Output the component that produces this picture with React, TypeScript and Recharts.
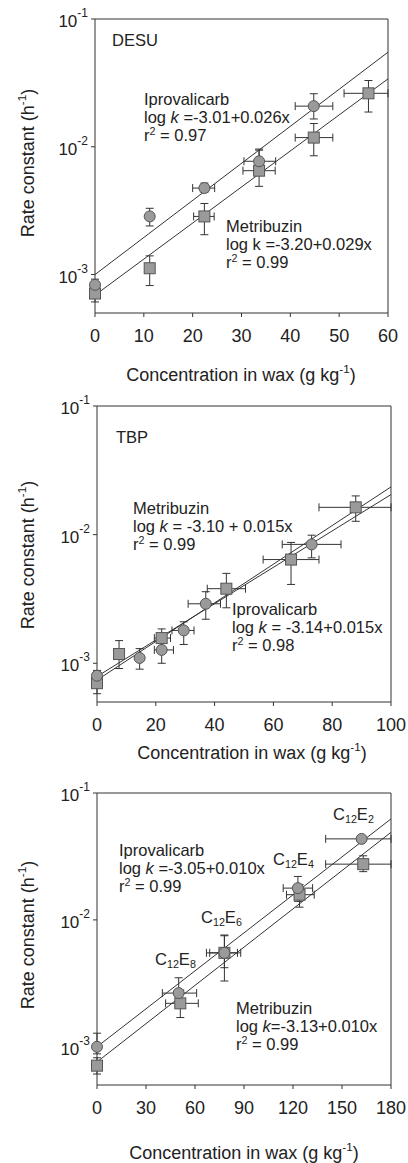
import React from "react";
import { ComposedChart, Scatter, ErrorBar, XAxis, YAxis, ReferenceLine } from "recharts";

// DESU panel
const desuIproX = [0, 11.2, 22.4, 33.6, 44.8];
const desuIproK = [0.00083, 0.00285, 0.00475, 0.0077, 0.0208];
const desuIproKLo = [0.00075, 0.0024, 0.0044, 0.0068, 0.0165];
const desuIproKHi = [0.00092, 0.0033, 0.0052, 0.0096, 0.026];
const desuIproXLo = [0, 11.2, 20, 30.5, 41];
const desuIproXHi = [0, 11.2, 24.5, 37, 48.7];

const desuMetriX = [0, 11.2, 22.4, 33.6, 44.8, 56];
const desuMetriK = [0.00071, 0.00112, 0.00285, 0.0065, 0.0118, 0.0262];
const desuMetriKLo = [0.00061, 0.00082, 0.00205, 0.0049, 0.0085, 0.0187];
const desuMetriKHi = [0.00081, 0.0014, 0.0036, 0.0094, 0.0152, 0.033];
const desuMetriXLo = [0, 11.2, 20.2, 30.3, 41, 51];
const desuMetriXHi = [0, 11.2, 24.4, 36.9, 48.7, 60];

const desuFitX = [0, 60];
const desuIproFitK = [0.001, 0.055];
const desuMetriFitK = [0.00069, 0.034];
const desuTicks = [0, 10, 20, 30, 40, 50, 60];

// TBP panel
const tbpMetriX = [0, 7.5, 22, 44, 66, 88];
const tbpMetriK = [0.0007, 0.00118, 0.00157, 0.0038, 0.0064, 0.0163];
const tbpMetriKLo = [0.00058, 0.00091, 0.0013, 0.0027, 0.0041, 0.0127];
const tbpMetriKHi = [0.00082, 0.0015, 0.00185, 0.005, 0.0087, 0.02];
const tbpMetriXLo = [0, 7.5, 19.5, 37.5, 56.5, 75.5];
const tbpMetriXHi = [0, 7.5, 25, 50.5, 75.5, 100];

const tbpIproX = [0, 14.5, 22, 29.5, 37, 73];
const tbpIproK = [0.0008, 0.0011, 0.00127, 0.0018, 0.0029, 0.0084];
const tbpIproKLo = [0.00072, 0.0009, 0.001, 0.0014, 0.0022, 0.0066];
const tbpIproKHi = [0.00088, 0.0013, 0.0015, 0.0021, 0.0036, 0.0099];
const tbpIproXLo = [0, 14.5, 19.5, 25.5, 31, 63];
const tbpIproXHi = [0, 14.5, 26, 33, 42, 83];

const tbpFitX = [0, 100];
const tbpMetriFitK = [0.00074, 0.0235];
const tbpIproFitK = [0.00079, 0.0205];
const tbpTicks = [0, 20, 40, 60, 80, 100];

// C12E panel
const ceIproX = [0, 50, 78, 123, 162];
const ceIproK = [0.001, 0.00265, 0.0055, 0.0178, 0.0435];
const ceIproKLo = [0.00088, 0.0021, 0.0042, 0.014, 0.0435];
const ceIproKHi = [0.00128, 0.0035, 0.0076, 0.022, 0.0435];
const ceIproXLo = [0, 40, 67, 114, 140];
const ceIproXHi = [0, 61, 88, 132, 180];

const ceMetriX = [0, 51, 78, 124, 163];
const ceMetriK = [0.00071, 0.0022, 0.0055, 0.0158, 0.0275];
const ceMetriKLo = [0.00061, 0.0017, 0.0033, 0.0126, 0.024];
const ceMetriKHi = [0.00082, 0.0028, 0.0075, 0.019, 0.032];
const ceMetriXLo = [0, 42, 69, 116, 140];
const ceMetriXHi = [0, 62, 86, 133, 180];

const ceFitX = [0, 180];
const ceIproFitK = [0.001, 0.0625];
const ceMetriFitK = [0.00076, 0.049];
const ceTicks = [0, 30, 60, 90, 120, 150, 180];

const yTicks = [0.001, 0.01, 0.1];
const yDomain = [0.0005, 0.1];

const FONT = '"Liberation Sans", Arial, sans-serif';
const INK = "#333";

function points(x: number[], k: number[], kLo: number[], kHi: number[], xLo: number[], xHi: number[]) {
  return x.map((v, i) => ({
    x: v,
    y: k[i],
    ey: [k[i] - kLo[i], kHi[i] - k[i]],
    ex: [v - xLo[i], xHi[i] - v],
  }));
}

function fit(x: number[], k: number[]) {
  return x.map((v, i) => ({ x: v, y: k[i] }));
}

const Circle = (p: any) => (
  <circle cx={p.cx} cy={p.cy} r={5.5} fill="#9a9a9a" stroke="#555" strokeWidth={1} />
);
const Square = (p: any) => (
  <rect x={p.cx - 5.5} y={p.cy - 5.5} width={11} height={11} fill="#9a9a9a" stroke="#555" strokeWidth={1} />
);
const NoDot = () => <g />;

const YTick = ({ x, y, payload }: any) => {
  const exp = Math.round(Math.log10(payload.value));
  return (
    <text x={x} y={y} textAnchor="end" fontFamily={FONT} fill="#222">
      <tspan fontSize={17} dy={8}>10</tspan>
      <tspan fontSize={12} dy={-10}>{exp}</tspan>
    </text>
  );
};

const Txt = ({ x, y, size = 16.5, children, style }: any) => (
  <div
    style={{
      position: "absolute",
      left: x,
      top: y,
      fontSize: size,
      lineHeight: "17px",
      fontFamily: FONT,
      color: "#222",
      whiteSpace: "nowrap",
      ...style,
    }}
  >
    {children}
  </div>
);

const Sup = ({ children }: any) => (
  <sup style={{ fontSize: "0.65em", verticalAlign: "0.6em", lineHeight: 0 }}>{children}</sup>
);
const Sub = ({ children }: any) => (
  <sub style={{ fontSize: "0.65em", verticalAlign: "-0.3em", lineHeight: 0 }}>{children}</sub>
);

const YTitle = ({ cx, cy }: any) => (
  <Txt x={cx} y={cy} size={18} style={{ transform: "translate(-50%, -50%) rotate(-90deg)" }}>
    Rate constant (h<Sup>-1</Sup>)
  </Txt>
);
const XTitle = ({ cx, cy }: any) => (
  <Txt x={cx} y={cy} size={18} style={{ transform: "translate(-50%, -50%)" }}>
    Concentration in wax (g kg<Sup>-1</Sup>)
  </Txt>
);

interface PanelProps {
  top: number;
  height: number;
  margin: { top: number; right: number; bottom: number; left: number };
  xMax: number;
  xTicks: number[];
  circles: any[];
  squares: any[];
  fits: any[][];
}

function Panel({ top, height, margin, xMax, xTicks, circles, squares, fits }: PanelProps) {
  return (
    <div style={{ position: "absolute", left: 0, top }}>
      <ComposedChart width={408} height={height} margin={margin}>
        <XAxis
          type="number"
          dataKey="x"
          domain={[0, xMax]}
          ticks={xTicks}
          height={30}
          tickSize={4}
          tickMargin={12}
          stroke={INK}
          tick={{ fontSize: 18, fill: "#222", fontFamily: FONT }}
        />
        <YAxis
          type="number"
          dataKey="y"
          scale="log"
          domain={yDomain}
          ticks={yTicks}
          width={60}
          tickSize={4}
          tickMargin={3}
          stroke={INK}
          tick={<YTick />}
        />
        <ReferenceLine y={yDomain[1]} stroke={INK} />
        <ReferenceLine x={xMax} stroke={INK} />
        {fits.map((f, i) => (
          <Scatter
            key={"fit" + i}
            data={f}
            line={{ stroke: INK, strokeWidth: 1 }}
            shape={NoDot}
            isAnimationActive={false}
          />
        ))}
        <Scatter data={squares} shape={Square} isAnimationActive={false}>
          <ErrorBar dataKey="ey" direction="y" width={4} stroke={INK} strokeWidth={1} />
          <ErrorBar dataKey="ex" direction="x" width={4} stroke={INK} strokeWidth={1} />
        </Scatter>
        <Scatter data={circles} shape={Circle} isAnimationActive={false}>
          <ErrorBar dataKey="ey" direction="y" width={4} stroke={INK} strokeWidth={1} />
          <ErrorBar dataKey="ex" direction="x" width={4} stroke={INK} strokeWidth={1} />
        </Scatter>
      </ComposedChart>
    </div>
  );
}

export default function App() {
  return (
    <div style={{ position: "absolute", left: 0, top: 0, width: 408, height: 1163, background: "#fff", overflow: "hidden" }}>
      <Panel
        top={0}
        height={390}
        margin={{ top: 19, right: 20, bottom: 47, left: 35 }}
        xMax={60}
        xTicks={desuTicks}
        circles={points(desuIproX, desuIproK, desuIproKLo, desuIproKHi, desuIproXLo, desuIproXHi)}
        squares={points(desuMetriX, desuMetriK, desuMetriKLo, desuMetriKHi, desuMetriXLo, desuMetriXHi)}
        fits={[fit(desuFitX, desuIproFitK), fit(desuFitX, desuMetriFitK)]}
      />
      <Panel
        top={390}
        height={390}
        margin={{ top: 16, right: 17, bottom: 48, left: 37 }}
        xMax={100}
        xTicks={tbpTicks}
        circles={points(tbpIproX, tbpIproK, tbpIproKLo, tbpIproKHi, tbpIproXLo, tbpIproXHi)}
        squares={points(tbpMetriX, tbpMetriK, tbpMetriKLo, tbpMetriKHi, tbpMetriXLo, tbpMetriXHi)}
        fits={[fit(tbpFitX, tbpMetriFitK), fit(tbpFitX, tbpIproFitK)]}
      />
      <Panel
        top={780}
        height={383}
        margin={{ top: 13, right: 17, bottom: 48, left: 37 }}
        xMax={180}
        xTicks={ceTicks}
        circles={points(ceIproX, ceIproK, ceIproKLo, ceIproKHi, ceIproXLo, ceIproXHi)}
        squares={points(ceMetriX, ceMetriK, ceMetriKLo, ceMetriKHi, ceMetriXLo, ceMetriXHi)}
        fits={[fit(ceFitX, ceIproFitK), fit(ceFitX, ceMetriFitK)]}
      />

      {/* panel 1 text */}
      <YTitle cx={28} cy={163} />
      <XTitle cx={241} cy={375} />
      <Txt x={112} y={32}>DESU</Txt>
      <Txt x={144} y={91}>Iprovalicarb</Txt>
      <Txt x={144} y={109}>log <i>k</i> =-3.01+0.026x</Txt>
      <Txt x={144} y={127}>r<Sup>2</Sup> = 0.97</Txt>
      <Txt x={226} y={218}>Metribuzin</Txt>
      <Txt x={226} y={236}>log k =-3.20+0.029x</Txt>
      <Txt x={226} y={254}>r<Sup>2</Sup> = 0.99</Txt>

      {/* panel 2 text */}
      <YTitle cx={28} cy={555} />
      <XTitle cx={252} cy={753} />
      <Txt x={116} y={429}>TBP</Txt>
      <Txt x={133} y={500}>Metribuzin</Txt>
      <Txt x={133} y={518}>log <i>k</i> = -3.10 + 0.015x</Txt>
      <Txt x={133} y={536}>r<Sup>2</Sup> = 0.99</Txt>
      <Txt x={232} y={601}>Iprovalicarb</Txt>
      <Txt x={232} y={619}>log <i>k</i> = -3.14+0.015x</Txt>
      <Txt x={232} y={637}>r<Sup>2</Sup> = 0.98</Txt>

      {/* panel 3 text */}
      <YTitle cx={28} cy={935} />
      <XTitle cx={244} cy={1153} />
      <Txt x={119} y={842}>Iprovalicarb</Txt>
      <Txt x={119} y={860}>log <i>k</i> =-3.05+0.010x</Txt>
      <Txt x={119} y={878}>r<Sup>2</Sup> = 0.99</Txt>
      <Txt x={236} y={1000}>Metribuzin</Txt>
      <Txt x={236} y={1018}>log <i>k</i>=-3.13+0.010x</Txt>
      <Txt x={236} y={1036}>r<Sup>2</Sup> = 0.99</Txt>
      <Txt x={333} y={806}>C<Sub>12</Sub>E<Sub>2</Sub></Txt>
      <Txt x={273} y={851}>C<Sub>12</Sub>E<Sub>4</Sub></Txt>
      <Txt x={201} y={909}>C<Sub>12</Sub>E<Sub>6</Sub></Txt>
      <Txt x={155} y={951}>C<Sub>12</Sub>E<Sub>8</Sub></Txt>
    </div>
  );
}
